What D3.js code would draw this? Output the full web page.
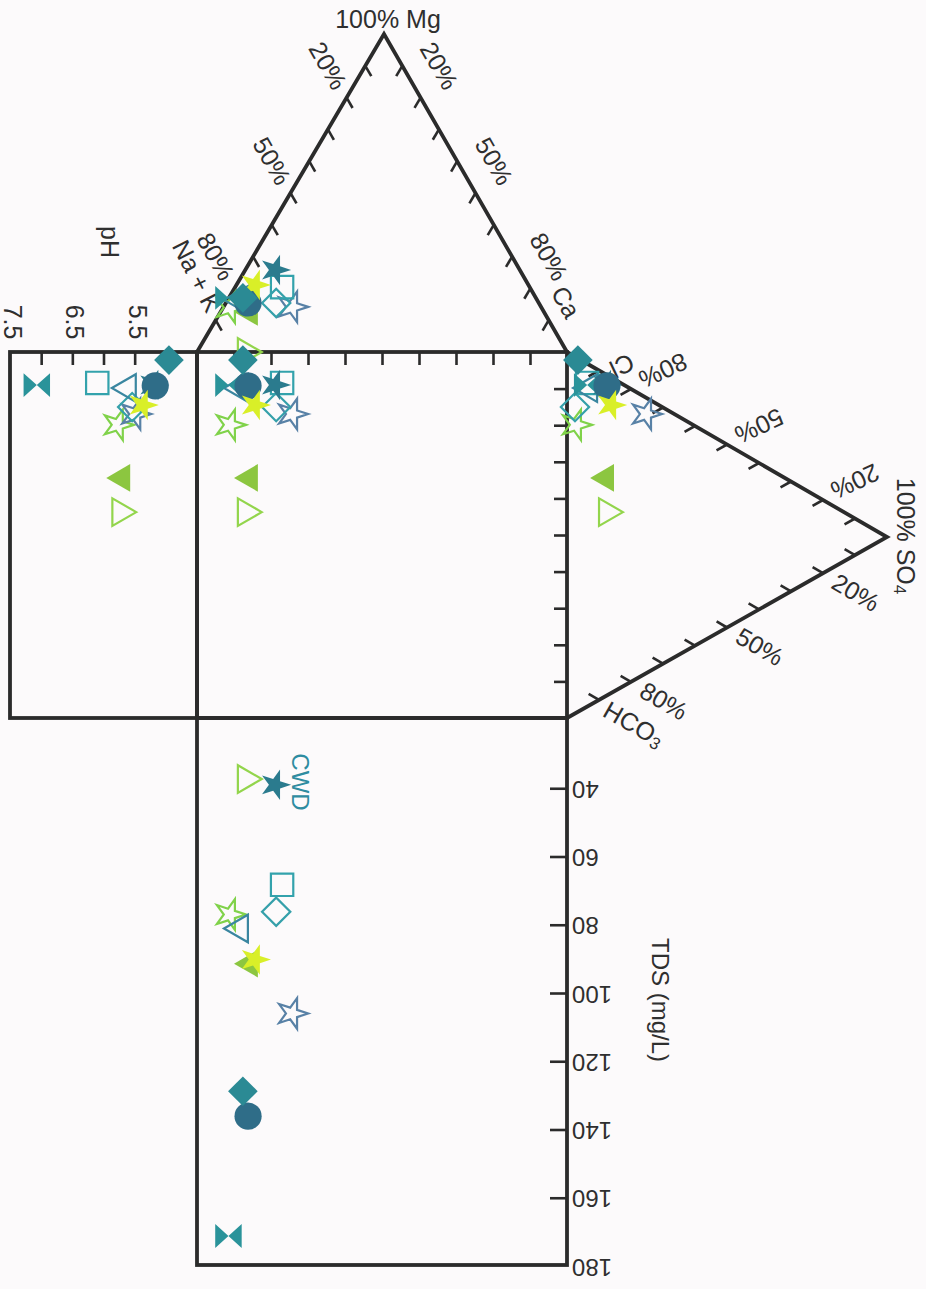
<!DOCTYPE html>
<html>
<head>
<meta charset="utf-8">
<script src="https://cdn.jsdelivr.net/npm/d3@7"></script>
<style>
  body { margin: 0; background: #fcfafb; }
  text { font-family: "Liberation Sans", Arial, sans-serif; fill: #2f2f2f; }
</style>
</head>
<body>
<svg width="926" height="1289"></svg>
<script>
// samples, in drawing order (last one on top)
const samples  = ['S1', 'S2', 'S3', 'S4', 'S5', 'S6', 'S7', 'S8', 'CWD', 'S9', 'S10', 'S11'];
const caPct    = [13.2, 8.0, 1.9, 18.6, 13.7, 12.8, 3.4, 0.0, 8.2, 6.1, 5.1, 3.9];
const mgPct    = [0.0, 12.6, 14.0, 14.2, 15.4, 20.4, 16.4, 17.0, 25.8, 15.4, 21.1, 17.0];
const so4Pct   = [12.5, 12.2, 2.8, 24.7, 2.5, 6.3, 6.9, 6.3, 12.2, 12.5, 13.8, 3.4];
const hco3Pct  = [37.5, 28.3, 18.5, 4.6, 13.8, 5.3, 6.4, 5.9, 2.9, 3.0, 7.6, 0.5];
const phVals   = [5.73, 5.70, 5.77, 5.49, 5.54, 6.10, 5.61, 7.07, 5.20, 5.17, 5.37, 4.95];
const tdsVals  = [37.3, 91.4, 77.0, 106.0, 76.2, 68.3, 81.1, 171.2, 39.0, 136.1, 90.2, 128.8];

const phTicks   = [5.0, 5.5, 6.0, 6.5, 7.0];
const phLabels  = [5.5, 6.5, 7.5];
const tdsTicks  = [40, 60, 80, 100, 120, 140, 160];
const tdsLabels = [40, 60, 80, 100, 120, 140, 160, 180];
const pctLabels = [20, 50, 80];

// marker styles
const shapes  = ['triR', 'triL', 'star', 'star', 'diamond', 'square', 'triL', 'bowtie', 'star', 'circle', 'star', 'diamondF'];
const fills   = ['none', '#8cc640', 'none', 'none', 'none', 'none', 'none', '#2a939a', '#2b7b8e', '#2f6d88', '#d9ef28', '#2b8a94'];
const strokes = ['#93d54c', 'none', '#80d24a', '#5881a6', '#35a0aa', '#33a2ac', '#3a86a0', 'none', 'none', 'none', 'none', 'none'];

const svg = d3.select('svg');
const ink = '#2b2b2b';
const fs = 25;

// layout
const sqL = 197, sqR = 567, sqT = 352, sqB = 718;
const phLeft = 10, tdsBottom = 1265;
const MG = [384, 34], SO = [887, 537];
const NA = [sqL, sqT], CA = [sqR, sqT], CL = [sqR, sqT], HC = [sqR, sqB];

const xComp = d3.scaleLinear().domain([0, 100]).range([sqL, sqR]);   // Ca + Mg/2
const yComp = d3.scaleLinear().domain([0, 100]).range([sqT, sqB]);   // HCO3 + SO4/2
const mgY   = d3.scaleLinear().domain([0, 100]).range([sqT, MG[1]]);
const so4X  = d3.scaleLinear().domain([0, 100]).range([sqR, SO[0]]);
const phX   = d3.scaleLinear().domain([4.5, 7.5]).range([sqL, phLeft]);
const tdsY  = d3.scaleLinear().domain([20, 180]).range([sqB + 2, tdsBottom + 1]);

svg.append('rect').attr('width', 926).attr('height', 1289).attr('fill', '#fcfafb');

// frame
const frame = svg.append('g').attr('fill', 'none').attr('stroke', ink).attr('stroke-width', 3.8);
frame.append('rect').attr('x', phLeft).attr('y', sqT).attr('width', sqL - phLeft).attr('height', sqB - sqT);
frame.append('rect').attr('x', sqL).attr('y', sqT).attr('width', sqR - sqL).attr('height', sqB - sqT);
frame.append('rect').attr('x', sqL).attr('y', sqB).attr('width', sqR - sqL).attr('height', tdsBottom - sqB);
frame.append('path').attr('d', d3.line()([NA, MG, CA]));
frame.append('path').attr('d', d3.line()([CL, SO, HC]));

function styleAxis(g) {
  g.select('.domain').remove();
  g.selectAll('line').attr('stroke', ink).attr('stroke-width', 2.6);
}

svg.append('g').attr('transform', `translate(0,${sqT})`)
  .call(d3.axisBottom(phX).tickValues(phTicks).tickSize(13).tickSizeOuter(0).tickFormat(''))
  .call(styleAxis);
svg.append('g').attr('transform', `translate(0,${sqT})`)
  .call(d3.axisBottom(xComp).tickValues(d3.range(10, 100, 10)).tickSize(13).tickSizeOuter(0).tickFormat(''))
  .call(styleAxis);
svg.append('g').attr('transform', `translate(${sqR},0)`)
  .call(d3.axisLeft(yComp).tickValues(d3.range(10, 100, 10)).tickSize(13).tickSizeOuter(0).tickFormat(''))
  .call(styleAxis);
svg.append('g').attr('transform', `translate(${sqR},0)`)
  .call(d3.axisLeft(tdsY).tickValues(tdsTicks).tickSize(17).tickSizeOuter(0).tickFormat(''))
  .call(styleAxis);

// triangle edges: ticks parallel to the other edge
function lerp(a, b, t) { return [a[0] + (b[0] - a[0]) * t, a[1] + (b[1] - a[1]) * t]; }
function unit(a, b) { const dx = b[0] - a[0], dy = b[1] - a[1], l = Math.hypot(dx, dy); return [dx / l, dy / l]; }

const edges = [
  { from: NA, to: MG, dir: unit(MG, CA), rot: 60, dist: 37 },
  { from: CA, to: MG, dir: unit(MG, NA), rot: 60, dist: 37 },
  { from: CL, to: SO, dir: unit(SO, HC), rot: 155, dist: 37 },
  { from: HC, to: SO, dir: unit(SO, CL), rot: 30, dist: 38 }
];

const tickG = svg.append('g').attr('stroke', ink).attr('stroke-width', 2.6);
edges.forEach(e => {
  d3.range(1, 10).forEach(k => {
    const p = lerp(e.from, e.to, k / 10);
    tickG.append('line')
      .attr('x1', p[0]).attr('y1', p[1])
      .attr('x2', p[0] + e.dir[0] * 12).attr('y2', p[1] + e.dir[1] * 12);
  });
  pctLabels.forEach(v => {
    const p = lerp(e.from, e.to, 1 - v / 100);
    const x = p[0] - e.dir[0] * e.dist, y = p[1] - e.dir[1] * e.dist;
    svg.append('text')
      .attr('transform', `translate(${x},${y}) rotate(${e.rot})`)
      .attr('text-anchor', 'middle').attr('dominant-baseline', 'central')
      .attr('font-size', fs).text(v + '%');
  });
});

// labels
function label(txt, x, y, rot, size, color) {
  return svg.append('text')
    .attr('transform', `translate(${x},${y}) rotate(${rot})`)
    .attr('text-anchor', 'middle').attr('dominant-baseline', 'central')
    .attr('font-size', size || fs)
    .style('fill', color || null)
    .text(txt);
}
label('100% Mg', 388, 19, 0, 25);
label('Na + K', 197, 276, 63);
label('Ca', 566, 302, 60);
label('Cl', 622, 366, 155);
const hco = label('HCO', 634, 724, 30);
hco.append('tspan').attr('font-size', 17).attr('dy', 6).text('3');
const so4 = label('100% SO', 906, 536, 90);
so4.append('tspan').attr('font-size', 17).attr('dy', 6).text('4');
label('pH', 110, 242, 90);
label('TDS (mg/L)', 660, 1000, 90, 24);
label('CWD', 300, 782, 90, 24, '#2e8ca0');

svg.selectAll('text.ph').data(phLabels).enter().append('text')
  .attr('class', 'ph')
  .attr('transform', d => `translate(${phX(d) + 3},${322}) rotate(90)`)
  .attr('text-anchor', 'middle').attr('dominant-baseline', 'central')
  .attr('font-size', fs)
  .text(d => d.toFixed(1));

svg.selectAll('text.tds').data(tdsLabels).enter().append('text')
  .attr('class', 'tds')
  .attr('transform', d => `translate(${sqR + 5},${tdsY(d) + 1}) rotate(180)`)
  .attr('text-anchor', 'end').attr('dominant-baseline', 'central')
  .attr('font-size', 24)
  .text(d => d);

// marker shapes
const bowtie = {
  draw(ctx, size) {
    const r = Math.sqrt(size) / 2, h = r * 0.9;
    ctx.moveTo(-r, -h); ctx.lineTo(0, 0); ctx.lineTo(-r, h); ctx.closePath();
    ctx.moveTo(r, -h); ctx.lineTo(0, 0); ctx.lineTo(r, h); ctx.closePath();
  }
};
const shapeDef = {
  triR:     { type: d3.symbolTriangle, size: 330, rot: 90 },
  triL:     { type: d3.symbolTriangle, size: 330, rot: -90 },
  star:     { type: d3.symbolStar, size: 290, rot: 90 },
  diamond:  { type: d3.symbolSquare, size: 400, rot: 45 },
  diamondF: { type: d3.symbolSquare, size: 440, rot: 45 },
  square:   { type: d3.symbolSquare, size: 500, rot: 0 },
  circle:   { type: d3.symbolCircle, size: 580, rot: 0 },
  bowtie:   { type: bowtie, size: 700, rot: 0 }
};

const points = [];
samples.forEach((s, i) => {
  const cx = xComp(caPct[i] + mgPct[i] / 2);
  const ay = yComp(hco3Pct[i] + so4Pct[i] / 2);
  [[cx, mgY(mgPct[i])],
   [so4X(so4Pct[i]), ay],
   [cx, ay],
   [phX(phVals[i]), ay],
   [cx, tdsY(tdsVals[i])]].forEach(p => points.push({ i: i, x: p[0], y: p[1] }));
});

svg.append('g').selectAll('path').data(points).enter().append('path')
  .attr('d', d => { const def = shapeDef[shapes[d.i]]; return d3.symbol().type(def.type).size(def.size)(); })
  .attr('transform', d => `translate(${d.x},${d.y}) rotate(${shapeDef[shapes[d.i]].rot})`)
  .attr('fill', d => fills[d.i])
  .attr('stroke', d => strokes[d.i])
  .attr('stroke-width', 2.2);
</script>
</body>
</html>
